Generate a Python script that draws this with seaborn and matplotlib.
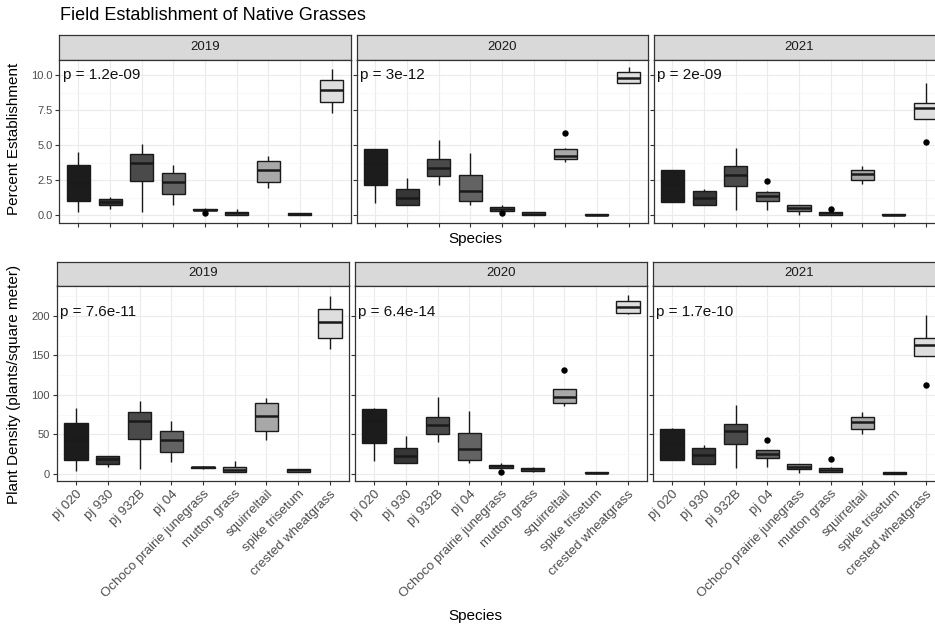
import numpy as np
import pandas as pd
import matplotlib
matplotlib.use("Agg")
import matplotlib.pyplot as plt
import seaborn as sns
from matplotlib.ticker import MultipleLocator

# ---------------- data ----------------
species = ["pj 020", "pj 930", "pj 932B", "pj 04", "Ochoco prairie junegrass",
           "mutton grass", "squirreltail", "spike trisetum", "crested wheatgrass"]
years = ["2019", "2020", "2021"]
fills = ["#1c1c1c", "#363636", "#4a4a4a", "#636363", "#7a7a7a",
         "#8f8f8f", "#a8a8a8", "#bfbfbf", "#dedede"]

# five observations per species (min, lower quartile, median, upper quartile, max)
estab_2019 = [[0.2, 1.0, 2.3, 3.6, 4.55], [0.45, 0.7, 0.95, 1.15, 1.3],
              [0.25, 2.45, 3.7, 4.35, 5.1], [0.75, 1.55, 2.4, 3.05, 3.6],
              [0.3, 0.35, 0.4, 0.45, 0.5], [0.0, 0.05, 0.15, 0.25, 0.45],
              [1.95, 2.35, 3.2, 3.9, 4.25], [0.0, 0.05, 0.1, 0.15, 0.15],
              [7.3, 8.1, 8.95, 9.65, 10.45]]
estab_2020 = [[0.85, 2.15, 3.65, 4.7, 4.7], [0.7, 0.75, 1.25, 1.85, 2.65],
              [2.15, 2.8, 3.4, 4.05, 5.35], [0.75, 1.0, 1.75, 2.85, 4.45],
              [0.3, 0.3, 0.45, 0.6, 0.7], [0.0, 0.02, 0.12, 0.22, 0.25],
              [3.8, 4.0, 4.25, 4.75, 4.8], [0.0, 0.02, 0.05, 0.08, 0.1],
              [9.45, 9.45, 9.8, 10.2, 10.6]]
estab_2021 = [[0.95, 0.95, 2.2, 3.2, 3.2], [0.7, 0.7, 1.25, 1.75, 1.9],
              [0.4, 2.1, 2.9, 3.5, 4.8], [0.4, 1.05, 1.4, 1.65, 1.7],
              [0.05, 0.3, 0.5, 0.7, 0.7], [0.0, 0.03, 0.15, 0.25, 0.3],
              [2.25, 2.55, 2.95, 3.2, 3.5], [0.0, 0.0, 0.03, 0.06, 0.06],
              [6.9, 6.9, 7.65, 8.05, 9.45]]
estab_outliers = [("2019", "Ochoco prairie junegrass", 0.15),
                  ("2020", "Ochoco prairie junegrass", 0.15),
                  ("2020", "squirreltail", 5.85),
                  ("2021", "pj 04", 2.45),
                  ("2021", "mutton grass", 0.45),
                  ("2021", "crested wheatgrass", 5.25)]
estab_pvals = ["p = 1.2e-09", "p = 3e-12", "p = 2e-09"]

density_2019 = [[3.5, 17.5, 43, 65, 84], [8.5, 12.5, 18.5, 23, 23],
                [6.5, 44.5, 67, 78, 92], [15, 27.5, 43, 54.5, 67],
                [6.5, 7, 8.5, 9.5, 10], [2, 3, 5, 8.5, 17],
                [43.5, 54, 73.5, 89.5, 96], [3, 3, 4.5, 6, 6],
                [157.5, 172.5, 192.5, 209, 225]]
density_2020 = [[16.5, 39.5, 66.5, 82.5, 84], [14, 14.5, 23, 33, 48.5],
                [40, 50.5, 62, 72.5, 97], [14, 18, 31.5, 51.5, 80],
                [7, 7.2, 9.7, 11.8, 14], [2, 3.5, 6, 7.5, 9],
                [86, 90, 97.5, 107, 107], [0.5, 1, 1.5, 2, 2.5],
                [202, 203, 210.5, 219, 226]]
density_2021 = [[18, 18, 39.5, 57, 58.5], [13, 13, 24.5, 32.5, 36.5],
                [7.5, 38.5, 54, 63.5, 87.5], [8.5, 20, 25, 30, 30],
                [1.5, 6.5, 9.5, 12.5, 12.5], [2, 3, 5.5, 8, 9],
                [51, 57.5, 65.5, 72.5, 78], [0.5, 0.5, 1.5, 3, 3],
                [149.5, 149.5, 163.5, 172.5, 201]]
density_outliers = [("2020", "Ochoco prairie junegrass", 3),
                    ("2020", "squirreltail", 131),
                    ("2021", "pj 04", 43.5),
                    ("2021", "mutton grass", 19),
                    ("2021", "crested wheatgrass", 112.5)]
density_pvals = ["p = 7.6e-11", "p = 6.4e-14", "p = 1.7e-10"]

# ---------------- style ----------------
sns.set_theme(style="ticks")
plt.rcParams["font.family"] = ["Liberation Sans", "DejaVu Sans"]

W, H = 935, 625
fig = plt.figure(figsize=(W / 100, H / 100), dpi=100)


def px_axes(left, top, width, height):
    return fig.add_axes([left / W, 1 - (top + height) / H, width / W, height / H])


def long_df(panel):
    rows = []
    for sp, obs in zip(species, panel):
        for v in obs:
            rows.append((sp, v))
    return pd.DataFrame(rows, columns=["species", "value"])


def draw_panel(left, strip_top, plot_top, plot_bottom, width, panel, outl, year,
               ylim, major, minor, pval, py, show_y, show_x):
    sax = px_axes(left, strip_top, width, plot_top - strip_top)
    sax.set_facecolor("#D9D9D9")
    sax.set_xticks([])
    sax.set_yticks([])
    for s in sax.spines.values():
        s.set_color("#333333")
        s.set_linewidth(0.9)
    sax.text(0.5, 0.5, year, ha="center", va="center", fontsize=9.5,
             color="#1a1a1a", transform=sax.transAxes)

    ax = px_axes(left, plot_top, width, plot_bottom - plot_top)
    df = long_df(panel)
    sns.boxplot(data=df, x="species", y="value", hue="species", order=species,
                hue_order=species, palette=fills, whis=(0, 100), width=0.73,
                showfliers=False, showcaps=False, linecolor="#1a1a1a",
                linewidth=1.0,
                medianprops=dict(linewidth=1.8, color="#1a1a1a"),
                legend=False, ax=ax)
    od = pd.DataFrame([(s, v) for (y, s, v) in outl if y == year],
                      columns=["species", "value"])
    if len(od):
        sns.stripplot(data=od, x="species", y="value", order=species,
                      jitter=False, color="black", size=4.6, ax=ax)
    ax.set_xlim(-0.6, 8.6)
    ax.set_ylim(*ylim)
    ax.yaxis.set_major_locator(MultipleLocator(major))
    ax.yaxis.set_minor_locator(MultipleLocator(minor))
    ax.set_axisbelow(True)
    ax.grid(True, which="major", color="#EBEBEB", linewidth=0.8)
    ax.grid(True, which="minor", axis="y", color="#F5F5F5", linewidth=0.5)
    ax.set_xlabel("")
    ax.set_ylabel("")
    for s in ax.spines.values():
        s.set_visible(True)
        s.set_color("#333333")
        s.set_linewidth(0.9)
    ax.tick_params(axis="both", which="major", length=3, width=0.8,
                   color="#333333", direction="out", bottom=True, left=True,
                   pad=2)
    ax.tick_params(which="minor", length=0)
    ax.tick_params(axis="y", labelsize=8, labelcolor="#4d4d4d")
    if not show_y:
        ax.tick_params(axis="y", labelleft=False)
    else:
        if major < 5:
            ax.yaxis.set_major_formatter(matplotlib.ticker.FormatStrFormatter("%.1f"))
    if show_x:
        ax.set_xticks(range(len(species)))
        ax.set_xticklabels(species, rotation=45, ha="right", va="top",
                           rotation_mode="anchor", fontsize=9.5, color="#4d4d4d")
    else:
        ax.tick_params(axis="x", labelbottom=False)
    ax.text(-0.5, py, pval, ha="left", va="center", fontsize=11, color="#111111")
    return ax


top_lefts = [59.5, 356.5, 653.5]
bot_lefts = [57, 355, 653]
estab_panels = [estab_2019, estab_2020, estab_2021]
density_panels = [density_2019, density_2020, density_2021]

for i, yr in enumerate(years):
    draw_panel(top_lefts[i], 35, 60, 223, 291, estab_panels[i], estab_outliers,
               yr, (-0.55, 11.09), 2.5, 1.25, estab_pvals[i], 10.0, i == 0, False)
    draw_panel(bot_lefts[i], 261.5, 285.5, 481, 292, density_panels[i],
               density_outliers, yr, (-8.8, 238.2), 50, 25, density_pvals[i],
               205, i == 0, True)

fig.text(60 / W, 1 - 15 / H, "Field Establishment of Native Grasses",
         ha="left", va="center", fontsize=13, color="black")
fig.text(14 / W, 1 - 139 / H, "Percent Establishment", rotation=90,
         ha="center", va="center", fontsize=11, color="black")
fig.text(14 / W, 1 - 384 / H, "Plant Density (plants/square meter)", rotation=90,
         ha="center", va="center", fontsize=11, color="black")
fig.text(475 / W, 1 - 239 / H, "Species", ha="center", va="center",
         fontsize=11, color="black")
fig.text(475 / W, 1 - 616 / H, "Species", ha="center", va="center",
         fontsize=11, color="black")

fig.savefig("out.png", dpi=100)
